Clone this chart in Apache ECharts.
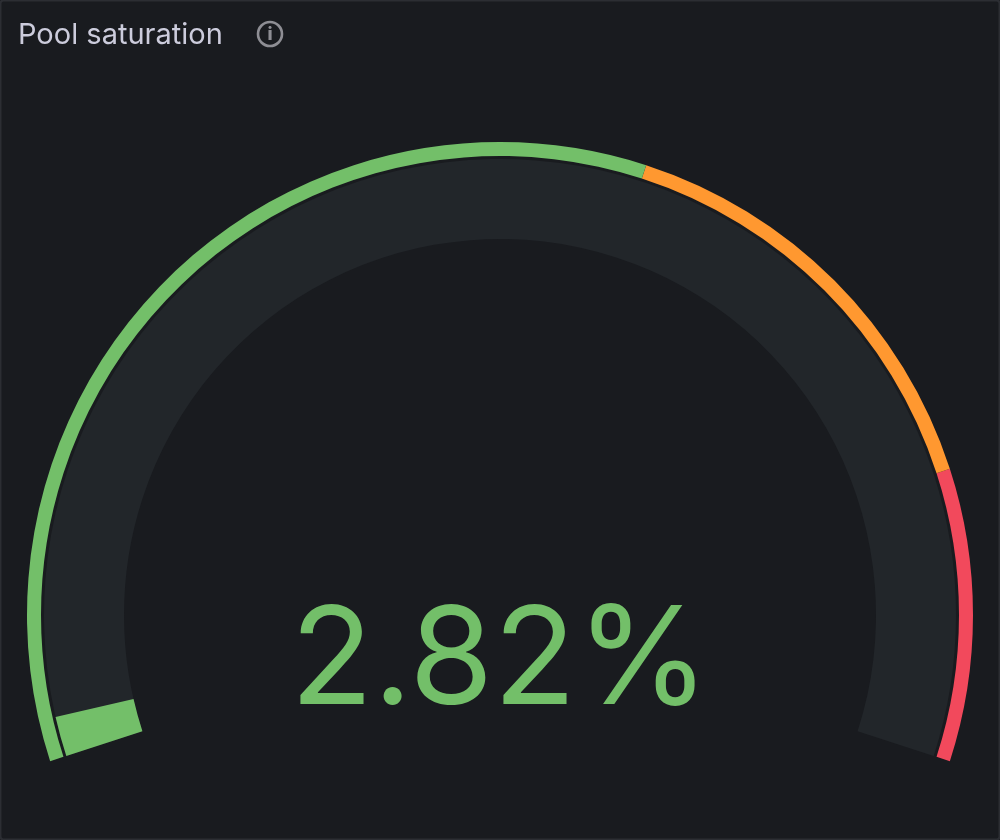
<!DOCTYPE html>
<html lang="en" style="height: 100%">

<head>
    <meta charset="UTF-8">
    <title>Pool saturation</title>
    <script src="https://cdn.jsdelivr.net/npm/echarts@6/dist/echarts.min.js"></script>
</head>

<body style="height: 100%; margin: 0; background: #191b1f">
    <div id="main" style="height: 100%"></div>
    <script>
        var titleText = 'Pool saturation';
        var gaugeValue = [2.82];
        var gaugeMin = 0;
        var gaugeMax = 120;
        var thresholdStops = [70, 100, 120];
        var thresholdColors = ['#73BF69', '#FF9830', '#F2495C'];

        var myChart = echarts.init(document.getElementById('main'));

        var bands = thresholdStops.map(function (v, i) {
            return [(v - gaugeMin) / (gaugeMax - gaugeMin), thresholdColors[i]];
        });

        var option = {
            backgroundColor: '#191b1f',
            animation: false,
            title: {
                text: titleText,
                left: 13,
                top: 16,
                textStyle: {
                    fontFamily: 'Inter',
                    fontSize: 29,
                    fontWeight: 400,
                    color: '#ccccdc'
                }
            },
            graphic: [
                // panel border
                {
                    type: 'rect',
                    shape: { x: 0.5, y: 0.5, width: 999, height: 839, r: 3 },
                    style: { fill: 'none', stroke: '#2c2e33', lineWidth: 2 }
                },
                // info icon
                {
                    type: 'circle',
                    shape: { cx: 270, cy: 34, r: 12 },
                    style: { fill: 'none', stroke: '#8e8e94', lineWidth: 2.6 }
                },
                {
                    type: 'text',
                    x: 270,
                    y: 34.5,
                    style: {
                        text: 'i',
                        fontFamily: 'Inter',
                        fontSize: 18,
                        fontWeight: 800,
                        fill: '#8e8e94',
                        align: 'center',
                        verticalAlign: 'middle'
                    }
                }
            ],
            series: [
                {
                    // threshold band
                    type: 'gauge',
                    silent: true,
                    center: [500, 615],
                    radius: 473,
                    startAngle: 198,
                    endAngle: -18,
                    min: gaugeMin,
                    max: gaugeMax,
                    axisLine: { lineStyle: { width: 14, color: bands } },
                    axisTick: { show: false },
                    splitLine: { show: false },
                    axisLabel: { show: false },
                    pointer: { show: false },
                    title: { show: false },
                    detail: { show: false },
                    data: [{ value: gaugeValue[0] }]
                },
                {
                    // value bar on the track
                    type: 'gauge',
                    silent: true,
                    center: [500, 615],
                    radius: 456,
                    startAngle: 198,
                    endAngle: -18,
                    min: gaugeMin,
                    max: gaugeMax,
                    axisLine: { lineStyle: { width: 80, color: [[1, '#22262a']] } },
                    progress: { show: true, width: 80, itemStyle: { color: thresholdColors[0] } },
                    axisTick: { show: false },
                    splitLine: { show: false },
                    axisLabel: { show: false },
                    pointer: { show: false },
                    title: { show: false },
                    detail: {
                        show: true,
                        offsetCenter: [0, 48],
                        fontFamily: 'Inter',
                        fontSize: 136,
                        fontWeight: 400,
                        color: thresholdColors[0],
                        formatter: function (v) { return v.toFixed(2) + '%'; }
                    },
                    data: [{ value: gaugeValue[0] }]
                }
            ]
        };

        myChart.setOption(option);
        window.addEventListener('resize', myChart.resize);
    </script>
</body>

</html>
